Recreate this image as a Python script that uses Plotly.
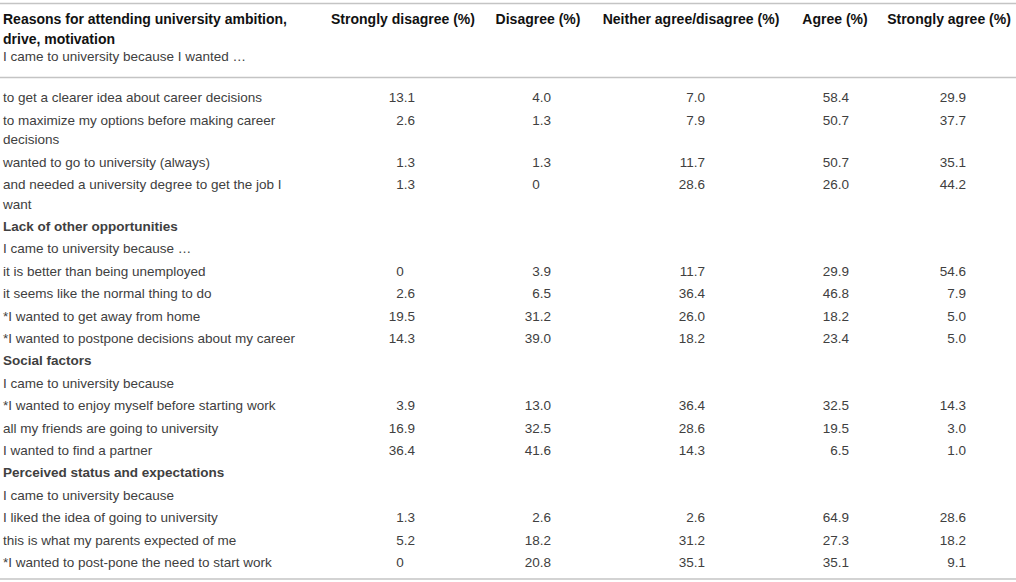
import plotly.graph_objects as go

# ---- Table content ----
columns = ["Strongly disagree (%)", "Disagree (%)", "Neither agree/disagree (%)",
           "Agree (%)", "Strongly agree (%)"]
header_title = ["Reasons for attending university ambition,", "drive, motivation"]
header_sub = "I came to university because I wanted …"

# each row: label lines, kind ("section", "lead", "item")
row_labels = [
    ["to get a clearer idea about career decisions"],
    ["to maximize my options before making career", "decisions"],
    ["wanted to go to university (always)"],
    ["and needed a university degree to get the job I", "want"],
    ["Lack of other opportunities"],
    ["I came to university because …"],
    ["it is better than being unemployed"],
    ["it seems like the normal thing to do"],
    ["*I wanted to get away from home"],
    ["*I wanted to postpone decisions about my career"],
    ["Social factors"],
    ["I came to university because"],
    ["*I wanted to enjoy myself before starting work"],
    ["all my friends are going to university"],
    ["I wanted to find a partner"],
    ["Perceived status and expectations"],
    ["I came to university because"],
    ["I liked the idea of going to university"],
    ["this is what my parents expected of me"],
    ["*I wanted to post-pone the need to start work"],
]
row_kind = ["item", "item", "item", "item", "section", "lead", "item", "item", "item",
            "item", "section", "lead", "item", "item", "item", "section", "lead",
            "item", "item", "item"]

strongly_disagree = [13.1, 2.6, 1.3, 1.3, None, None, 0, 2.6, 19.5, 14.3, None, None,
                     3.9, 16.9, 36.4, None, None, 1.3, 5.2, 0]
disagree = [4.0, 1.3, 1.3, 0, None, None, 3.9, 6.5, 31.2, 39.0, None, None,
            13.0, 32.5, 41.6, None, None, 2.6, 18.2, 20.8]
neither = [7.0, 7.9, 11.7, 28.6, None, None, 11.7, 36.4, 26.0, 18.2, None, None,
           36.4, 28.6, 14.3, None, None, 2.6, 31.2, 35.1]
agree = [58.4, 50.7, 50.7, 26.0, None, None, 29.9, 46.8, 18.2, 23.4, None, None,
         32.5, 19.5, 6.5, None, None, 64.9, 27.3, 35.1]
strongly_agree = [29.9, 37.7, 35.1, 44.2, None, None, 54.6, 7.9, 5.0, 5.0, None, None,
                  14.3, 3.0, 1.0, None, None, 28.6, 18.2, 9.1]

# ---- Layout (pixel space) ----
W, H = 1016, 582
FONT = "Liberation Sans, Arial, sans-serif"
BODY_COLOR = "#404040"
HEAD_COLOR = "#111111"
RULE_COLOR = "#c4c4c4"
LABEL_X = 3
HEADER_CENTERS = [403, 538, 691, 835, 949]
VALUE_RIGHT = [415, 551, 705, 849, 966]
TOP_RULE, HEAD_RULE, BOTTOM_RULE = 3.5, 77.5, 579
FIRST_ROW_Y = 99
ROW_PITCH = 22.4
WRAP_STEP = 19.5
BODY_SIZE = 13.5


def fmt(v):
    if v is None:
        return ""
    if v == 0:
        return "0\u00a0\u00a0\u00a0"
    return f"{v:.1f}"


# label line positions
label_x, label_y, label_text = [], [], []
row_y = []
y = FIRST_ROW_Y
for lines, kind in zip(row_labels, row_kind):
    row_y.append(y)
    for j, line in enumerate(lines):
        label_x.append(LABEL_X)
        label_y.append(y + j * WRAP_STEP)
        label_text.append(f"<b>{line}</b>" if kind == "section" else line)
    y += ROW_PITCH + WRAP_STEP * (len(lines) - 1)

fig = go.Figure()

# left labels
fig.add_trace(go.Scatter(
    x=label_x, y=label_y, text=label_text, mode="text",
    textposition="middle right",
    textfont=dict(family=FONT, size=BODY_SIZE, color=BODY_COLOR),
    hoverinfo="skip", showlegend=False))

# headers
fig.add_trace(go.Scatter(
    x=[LABEL_X, LABEL_X], y=[20.5, 40],
    text=[f"<b>{t}</b>" for t in header_title], mode="text",
    textposition="middle right",
    textfont=dict(family=FONT, size=14, color=HEAD_COLOR),
    hoverinfo="skip", showlegend=False))
fig.add_trace(go.Scatter(
    x=[LABEL_X], y=[57.5], text=[header_sub], mode="text",
    textposition="middle right",
    textfont=dict(family=FONT, size=BODY_SIZE, color=BODY_COLOR),
    hoverinfo="skip", showlegend=False))
fig.add_trace(go.Scatter(
    x=HEADER_CENTERS, y=[20.5] * len(columns),
    text=[f"<b>{c}</b>" for c in columns], mode="text",
    textposition="middle center",
    textfont=dict(family=FONT, size=14, color=HEAD_COLOR),
    hoverinfo="skip", showlegend=False))

# value columns
for xr, vals in zip(VALUE_RIGHT, [strongly_disagree, disagree, neither, agree, strongly_agree]):
    fig.add_trace(go.Scatter(
        x=[xr] * len(vals), y=row_y, text=[fmt(v) for v in vals], mode="text",
        textposition="middle left",
        textfont=dict(family=FONT, size=BODY_SIZE, color=BODY_COLOR),
        hoverinfo="skip", showlegend=False))

# rules
for yy in [TOP_RULE, HEAD_RULE, BOTTOM_RULE]:
    fig.add_shape(type="line", x0=0, x1=W, y0=yy, y1=yy, xref="x", yref="y",
                  line=dict(color=RULE_COLOR, width=1.5))

fig.update_xaxes(range=[0, W], visible=False, fixedrange=True)
fig.update_yaxes(range=[H, 0], visible=False, fixedrange=True)
fig.update_layout(
    width=W, height=H,
    margin=dict(l=0, r=0, t=0, b=0),
    plot_bgcolor="white",
    paper_bgcolor="white",
)

fig.write_html("out.html", config={"displayModeBar": False},
               post_script="document.body.style.margin='0';")
